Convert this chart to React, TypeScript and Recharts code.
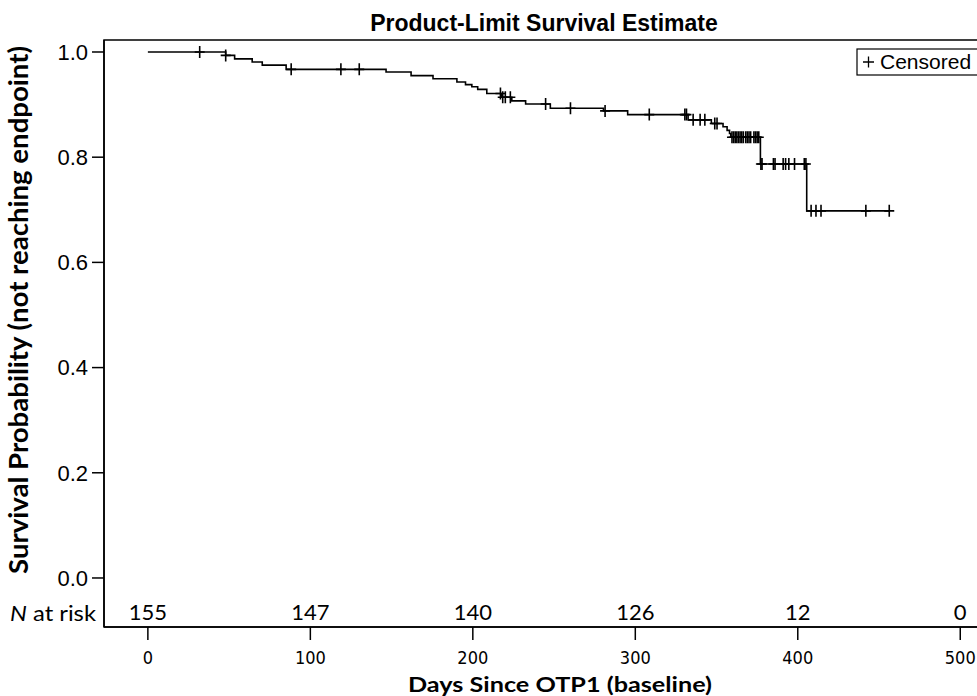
import React from 'react';
import { ComposedChart, Line, Scatter, XAxis, YAxis, ReferenceArea } from 'recharts';

// Kaplan-Meier events: day of event and survival estimate right after it
const eventDays = [47.9, 53.4, 64.2, 70.4, 85.1, 146.6, 162, 175.5, 190.2, 195.5, 199.4, 203, 208.6, 217.8, 224, 232.5, 247.7, 280.4, 295.3, 332.5, 346.8, 354, 356.5, 358, 358.8, 377, 405.5];
const survivalAfterEvent = [0.9935, 0.987, 0.981, 0.975, 0.967, 0.962, 0.955, 0.949, 0.943, 0.938, 0.934, 0.929, 0.921, 0.914, 0.907, 0.901, 0.893, 0.888, 0.881, 0.871, 0.864, 0.858, 0.851, 0.845, 0.838, 0.787, 0.698];

// Censored observation days
const censorDays = [31.9, 47.9, 88.2, 118.8, 130.1, 217, 218.4, 220, 223.1, 244.8, 260.1, 281.4, 308.6, 330.5, 331.5, 335.6, 339.9, 342.8, 348.9, 350.3, 359.5, 360.5, 361.5, 362.5, 363.5, 364.5, 365.5, 366.5, 368, 369, 370, 371, 373, 374, 375, 376, 377.3, 378, 385, 386, 391, 392.5, 394.5, 398, 404, 405, 408.2, 411.2, 414.3, 441.9, 456.3];
const lastFollowUpDay = 456.3;

// Number at risk table
const riskDays = [0, 100, 200, 300, 400, 500];
const riskCounts = [155, 147, 140, 126, 12, 0];
const riskRowLevel = -0.0646;

const xTicks = [0, 100, 200, 300, 400, 500];
const yTicks = [0, 0.2, 0.4, 0.6, 0.8, 1.0];
const xDomain = [-27, 522];
const yDomain = [-0.0932, 1.0228];

function survivalAt(day: number) {
  let s = 1;
  for (let i = 0; i < eventDays.length; i++) {
    if (eventDays[i] <= day) s = survivalAfterEvent[i];
  }
  return s;
}

const curveData = [
  { day: 0, s: 1 },
  ...eventDays.map((d, i) => ({ day: d, s: survivalAfterEvent[i] })),
  { day: lastFollowUpDay, s: survivalAt(lastFollowUpDay) },
];
const censorData = censorDays.map((d) => ({ day: d, s: survivalAt(d) }));
const riskData = riskDays.map((d, i) => ({ day: d, s: riskRowLevel, n: riskCounts[i] }));

const narrow = "'Liberation Sans Narrow', 'Arial Narrow', 'DejaVu Sans Condensed', sans-serif";
const arial = "'Liberation Sans', Arial, sans-serif";
const calibriLike = "Lato, 'Open Sans', sans-serif";

const PlusShape = (props: any) => {
  const { cx, cy } = props;
  if (cx == null || cy == null) return null;
  return (
    <path d={`M${cx - 5},${cy}h10M${cx},${cy - 6}v12`} stroke="#000" strokeWidth={1.6} fill="none" />
  );
};

const RiskText = (props: any) => {
  const { cx, cy } = props;
  const n = props.payload?.n ?? props.n;
  return (
    <text x={cx} y={cy} textAnchor="middle" dominantBaseline="central" fontFamily={calibriLike} fontSize={22} fill="#000">
      {n}
    </text>
  );
};

export default function App() {
  return (
    <div style={{ position: 'absolute', left: 0, top: 0, width: 977, height: 696, overflow: 'hidden', background: '#fff' }}>
      <ComposedChart width={1000} height={696} margin={{ top: 40, right: 4, bottom: 0, left: 0 }}>
        <XAxis
          dataKey="day"
          type="number"
          domain={xDomain}
          ticks={xTicks}
          allowDataOverflow
          height={69}
          tickSize={13}
          tickMargin={11}
          axisLine={{ stroke: '#000', strokeWidth: 1.5 }}
          tickLine={{ stroke: '#000', strokeWidth: 1.5 }}
          tick={{ fill: '#000', fontSize: 18, fontFamily: narrow }}
        />
        <YAxis
          dataKey="s"
          type="number"
          domain={yDomain}
          ticks={yTicks}
          allowDataOverflow
          width={104}
          tickSize={12}
          tickMargin={4}
          tickFormatter={(v: number) => v.toFixed(1)}
          axisLine={{ stroke: '#000', strokeWidth: 1.5 }}
          tickLine={{ stroke: '#000', strokeWidth: 1.5 }}
          tick={{ fill: '#000', fontSize: 22, fontFamily: arial }}
        />
        <ReferenceArea
          x1={xDomain[0]}
          x2={xDomain[1]}
          y1={yDomain[0]}
          y2={yDomain[1]}
          fill="none"
          stroke="#000"
          strokeWidth={1.5}
          ifOverflow="visible"
        />
        <Line
          data={curveData}
          dataKey="s"
          type="stepAfter"
          stroke="#000"
          strokeWidth={1.6}
          dot={false}
          activeDot={false}
          isAnimationActive={false}
        />
        <Scatter data={censorData} dataKey="s" shape={PlusShape} isAnimationActive={false} />
        <Scatter data={riskData} dataKey="s" shape={RiskText} isAnimationActive={false} />
      </ComposedChart>
      <svg width={977} height={696} style={{ position: 'absolute', left: 0, top: 0, pointerEvents: 'none' }}>
        <text x={544} y={31} textAnchor="middle" fontFamily={arial} fontWeight="bold" fontSize={23} fill="#000">
          Product-Limit Survival Estimate
        </text>
        <text
          x={0}
          y={0}
          transform="translate(28,310) rotate(-90)"
          textAnchor="middle"
          fontFamily={calibriLike}
          fontWeight="bold"
          fontSize={26}
          textLength={528}
          lengthAdjust="spacingAndGlyphs"
          fill="#000"
        >
          Survival Probability (not reaching endpoint)
        </text>
        <text
          x={560}
          y={692}
          textAnchor="middle"
          fontFamily={calibriLike}
          fontWeight="bold"
          fontSize={20}
          textLength={304}
          lengthAdjust="spacingAndGlyphs"
          fill="#000"
        >
          Days Since OTP1 (baseline)
        </text>
        <text x={96} y={612} textAnchor="end" dominantBaseline="central" fontFamily={calibriLike} fontSize={22} textLength={86} lengthAdjust="spacingAndGlyphs" fill="#000">
          <tspan fontStyle="italic">N</tspan> at risk
        </text>
        <rect x={857} y={49} width={140} height={26} fill="#fff" stroke="#000" strokeWidth={1.2} />
        <path d="M863,62h11M868.5,56.5v11" stroke="#000" strokeWidth={1.3} />
        <text x={880} y={69} fontFamily={arial} fontSize={21} fill="#000">
          Censored
        </text>
      </svg>
    </div>
  );
}
